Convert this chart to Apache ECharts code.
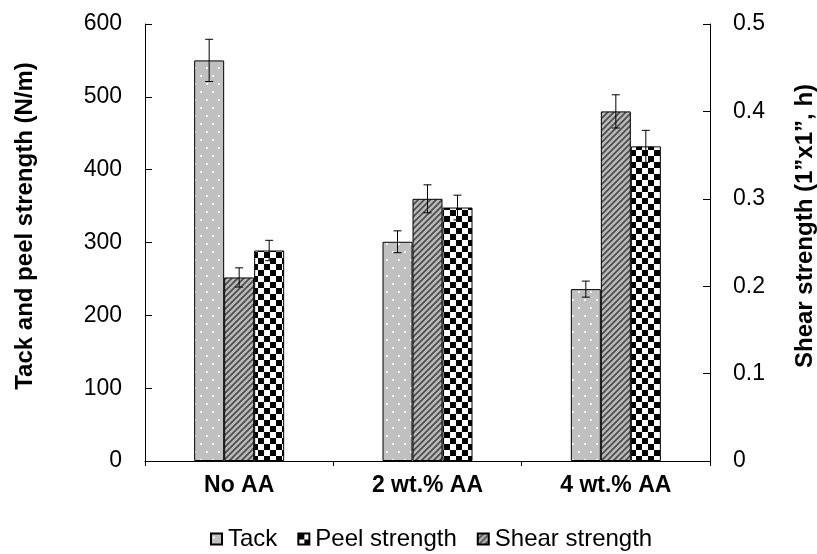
<!DOCTYPE html>
<html>
<head>
<meta charset="utf-8">
<script src="https://cdn.jsdelivr.net/npm/echarts@6/dist/echarts.min.js"></script>
<style>html,body{margin:0;padding:0;background:#fff;}#chart{width:817px;height:554px;}</style>
</head>
<body>
<div id="chart"></div>
<script>
// ---- data ----
var categories = ['No AA', '2 wt.% AA', '4 wt.% AA'];
var tack = [550, 301, 236];
var tackErr = [29, 15, 11];
var peel = [289, 348, 432];
var peelErr = [14, 17, 22];
var shear = [0.21, 0.30, 0.40];
var shearErr = [0.011, 0.016, 0.019];
var leftTicks = [0, 600, 100];
var rightTicks = [0, 0.5, 0.1];

// ---- patterns ----
function makeCanvas(w, h, draw) {
  var c = document.createElement('canvas');
  c.width = w; c.height = h;
  draw(c.getContext('2d'), w, h);
  return c;
}
var dotPattern = makeCanvas(12, 16, function (ctx, w, h) {
  ctx.fillStyle = '#c0c0c0'; ctx.fillRect(0, 0, w, h);
  ctx.fillStyle = '#f4f4f4';
  ctx.fillRect(2, 3, 2, 2);
  ctx.fillRect(8, 11, 2, 2);
});
var hatchPattern = makeCanvas(6, 6, function (ctx, w, h) {
  ctx.fillStyle = '#b8b8b8'; ctx.fillRect(0, 0, w, h);
  ctx.strokeStyle = '#4a4a4a'; ctx.lineWidth = 1.6;
  ctx.beginPath();
  ctx.moveTo(-1, 7); ctx.lineTo(7, -1);
  ctx.moveTo(-4, 4); ctx.lineTo(4, -4);
  ctx.moveTo(2, 10); ctx.lineTo(10, 2);
  ctx.stroke();
});
var checkPattern = makeCanvas(12, 12, function (ctx, w, h) {
  ctx.fillStyle = '#ffffff'; ctx.fillRect(0, 0, w, h);
  ctx.fillStyle = '#000000';
  ctx.fillRect(0, 0, 6, 6);
  ctx.fillRect(6, 6, 6, 6);
});

var FONT = 'Liberation Sans, Arial, sans-serif';
var BARW = 30;

function errSeries(name, vals, errs, offset, yIdx) {
  return {
    name: name + ' err',
    type: 'custom',
    yAxisIndex: yIdx,
    z: 10,
    silent: true,
    data: vals.map(function (v, i) { return [i, v, errs[i]]; }),
    renderItem: function (params, api) {
      var i = api.value(0), v = api.value(1), e = api.value(2);
      var x = api.coord([i, v])[0] + offset;
      var yH = api.coord([i, v + e])[1];
      var yL = api.coord([i, v - e])[1];
      var st = { stroke: '#000', lineWidth: 1 };
      return {
        type: 'group',
        children: [
          { type: 'line', shape: { x1: x, y1: yH, x2: x, y2: yL }, style: st },
          { type: 'line', shape: { x1: x - 4, y1: yH, x2: x + 4, y2: yH }, style: st },
          { type: 'line', shape: { x1: x - 4, y1: yL, x2: x + 4, y2: yL }, style: st }
        ]
      };
    }
  };
}

var chart = echarts.init(document.getElementById('chart'));
chart.setOption({
  animation: false,
  backgroundColor: '#fff',
  grid: { left: 145, right: 107, top: 24, bottom: 93 },
  legend: {
    data: ['Tack', 'Peel strength', 'Shear strength'],
    top: 527,
    left: 210,
    padding: 0,
    itemWidth: 11,
    itemHeight: 11,
    itemGap: 20,
    icon: 'rect',
    textStyle: { fontFamily: FONT, fontSize: 24, color: '#000', padding: [0, 0, 0, 1] }
  },
  xAxis: {
    type: 'category',
    data: categories,
    axisLine: { lineStyle: { color: '#000', width: 1 } },
    axisTick: { show: true, length: 5, lineStyle: { color: '#000' } },
    axisLabel: { fontFamily: FONT, fontSize: 23, fontWeight: 'bold', color: '#000', margin: 13 }
  },
  yAxis: [
    {
      type: 'value', min: leftTicks[0], max: leftTicks[1], interval: leftTicks[2],
      splitLine: { show: false },
      axisLine: { show: true, lineStyle: { color: '#000' } },
      axisTick: { show: true, inside: true, length: 7, lineStyle: { color: '#000' } },
      axisLabel: { fontFamily: FONT, fontSize: 23, color: '#000', margin: 23 }
    },
    {
      type: 'value', min: rightTicks[0], max: rightTicks[1], interval: rightTicks[2],
      position: 'right',
      splitLine: { show: false },
      axisLine: { show: true, lineStyle: { color: '#000' } },
      axisTick: { show: true, inside: true, length: 7, lineStyle: { color: '#000' } },
      axisLabel: { fontFamily: FONT, fontSize: 23, color: '#000', margin: 23 }
    }
  ],
  graphic: [
    {
      type: 'text', x: 25, y: 226, rotation: Math.PI / 2,
      style: { text: 'Tack and peel strength (N/m)', font: 'bold 24px ' + FONT, fill: '#000', textAlign: 'center', textVerticalAlign: 'middle' }
    },
    {
      type: 'text', x: 805, y: 226, rotation: Math.PI / 2,
      style: { text: 'Shear strength (1”x1”, h)', font: 'bold 24px ' + FONT, fill: '#000', textAlign: 'center', textVerticalAlign: 'middle' }
    }
  ],
  series: [
    {
      name: 'Tack', type: 'bar', yAxisIndex: 0, data: tack,
      barWidth: BARW, barGap: '0%',
      itemStyle: { color: { image: dotPattern, repeat: 'repeat' }, borderColor: '#000', borderWidth: 1 }
    },
    {
      name: 'Shear strength', type: 'bar', yAxisIndex: 1, data: shear,
      barWidth: BARW, barGap: '0%',
      itemStyle: { color: { image: hatchPattern, repeat: 'repeat' }, borderColor: '#000', borderWidth: 1 }
    },
    {
      name: 'Peel strength', type: 'bar', yAxisIndex: 0, data: peel,
      barWidth: BARW, barGap: '0%',
      itemStyle: { color: { image: checkPattern, repeat: 'repeat' }, borderColor: '#000', borderWidth: 1 }
    },
    errSeries('Tack', tack, tackErr, -BARW, 0),
    errSeries('Shear strength', shear, shearErr, 0, 1),
    errSeries('Peel strength', peel, peelErr, BARW, 0)
  ]
});
</script>
</body>
</html>
